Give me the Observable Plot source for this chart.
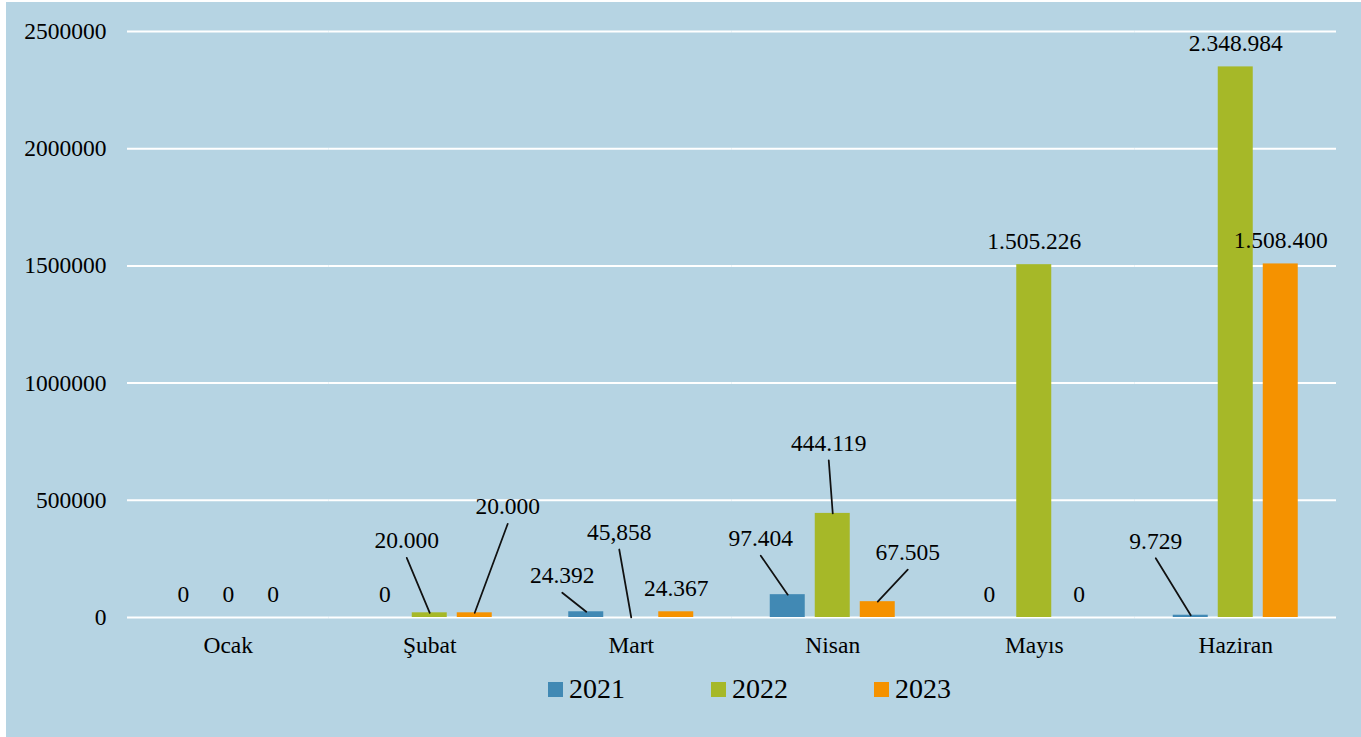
<!DOCTYPE html>
<html>
<head>
<meta charset="utf-8">
<script src="https://cdn.jsdelivr.net/npm/d3@7"></script>
<script src="https://cdn.jsdelivr.net/npm/@observablehq/plot@0.6"></script>
<style>
  html, body { margin: 0; padding: 0; background: #ffffff; }
  #panel { position: absolute; left: 6px; top: 2px; width: 1355px; height: 735px; background: #b6d4e3; overflow: hidden; }
  #chart { position: absolute; left: 0; top: 0; }
  #legend { position: absolute; left: 542px; top: 671px; display: flex; align-items: center;
            font-family: 'Liberation Serif', 'Times New Roman', serif; font-size: 28px; color: #000; }
  .item { display: flex; align-items: center; }
  .sw { width: 15px; height: 15px; margin-right: 6px; }
</style>
</head>
<body>
<div id="panel"><div id="chart"></div><div id="legend"></div></div>
<script>
// ---- data ----
const months = ["Ocak", "Şubat", "Mart", "Nisan", "Mayıs", "Haziran"];
const years = ["2021", "2022", "2023"];
const values2021 = [0, 0, 24392, 97404, 0, 9729];
const values2022 = [0, 20000, 45.858, 444119, 1505226, 2348984];
const values2023 = [0, 20000, 24367, 67505, 0, 1508400];
const yTicks = [0, 500000, 1000000, 1500000, 2000000, 2500000];
const colors = ["#4189b4", "#a6b828", "#f59200"];

// label placement (styling): offsets in px of callout text from bar top
const leaderOffsets = [
  {month: "Şubat", year: "2022", dx: -23, dy: -72},
  {month: "Şubat", year: "2023", dx: 33, dy: -106},
  {month: "Mart", year: "2021", dx: -24, dy: -36},
  {month: "Mart", year: "2022", dx: -12, dy: -85},
  {month: "Nisan", year: "2021", dx: -27, dy: -56},
  {month: "Nisan", year: "2022", dx: -4, dy: -70},
  {month: "Nisan", year: "2023", dx: 30, dy: -49},
  {month: "Haziran", year: "2021", dx: -35, dy: -74}
];

const series = [values2021, values2022, values2023];
const rows = [];
months.forEach((m, i) => years.forEach((y, j) => rows.push({month: m, year: y, value: series[j][i]})));

const trFormat = d3.formatLocale({decimal: ",", thousands: ".", grouping: [3], currency: ["", ""]}).format(",");
const key = d => d.month + "|" + d.year;
const leaderMap = new Map(leaderOffsets.map(o => [key(o), o]));

const font = "'Liberation Serif', 'Times New Roman', serif";
const fs = 23.5;

const marks = [
  Plot.ruleY(yTicks, {stroke: "#ffffff", strokeWidth: 2}),
  Plot.barY(rows, {fx: "month", x: "year", y: "value", fill: "year"}),
  Plot.text(rows.filter(d => !leaderMap.has(key(d))), {
    fx: "month", x: "year", y: "value", text: d => trFormat(d.value),
    dy: -23.5, fontSize: fs, fill: "#000"
  })
];

for (const o of leaderOffsets) {
  const d = rows.find(r => key(r) === key(o));
  const vx = o.dx, vy = o.dy + 17;
  const len = Math.hypot(vx, vy);
  const rot = Math.atan2(vx, -vy) * 180 / Math.PI;
  marks.push(Plot.vector([d], {
    fx: "month", x: "year", y: "value", anchor: "start",
    length: len, rotate: rot, stroke: "#111", strokeWidth: 1.75, fill: "none",
    shape: {draw(context, l) { context.moveTo(0, 0); context.lineTo(0, -l); }}
  }));
  marks.push(Plot.text([d], {
    fx: "month", x: "year", y: "value", text: r => trFormat(r.value),
    dx: o.dx, dy: o.dy, fontSize: fs, fill: "#000"
  }));
}

const chart = Plot.plot({
  width: 1355,
  height: 660,
  marginLeft: 121,
  marginRight: 25,
  marginTop: 29,
  marginBottom: 45,
  style: {fontFamily: font, fontSize: fs + "px", background: "transparent", color: "#000", overflow: "visible"},
  fx: {domain: months, padding: 0, axis: "bottom", tickSize: 0, tickPadding: 19, label: null, round: false},
  x: {domain: years, paddingInner: 0.2222, paddingOuter: 0.85, axis: null, round: false},
  y: {domain: [0, 2500000], ticks: yTicks, tickSize: 0, tickPadding: 21, tickFormat: d => String(d), label: null},
  color: {domain: years, range: colors},
  marks
});
document.getElementById("chart").appendChild(chart);

const legend = document.getElementById("legend");
years.forEach((y, i) => {
  const item = document.createElement("div");
  item.className = "item";
  if (i > 0) item.style.marginLeft = "86px";
  const sw = document.createElement("div");
  sw.className = "sw";
  sw.style.background = colors[i];
  const t = document.createElement("span");
  t.textContent = y;
  item.appendChild(sw); item.appendChild(t);
  legend.appendChild(item);
});
</script>
</body>
</html>
